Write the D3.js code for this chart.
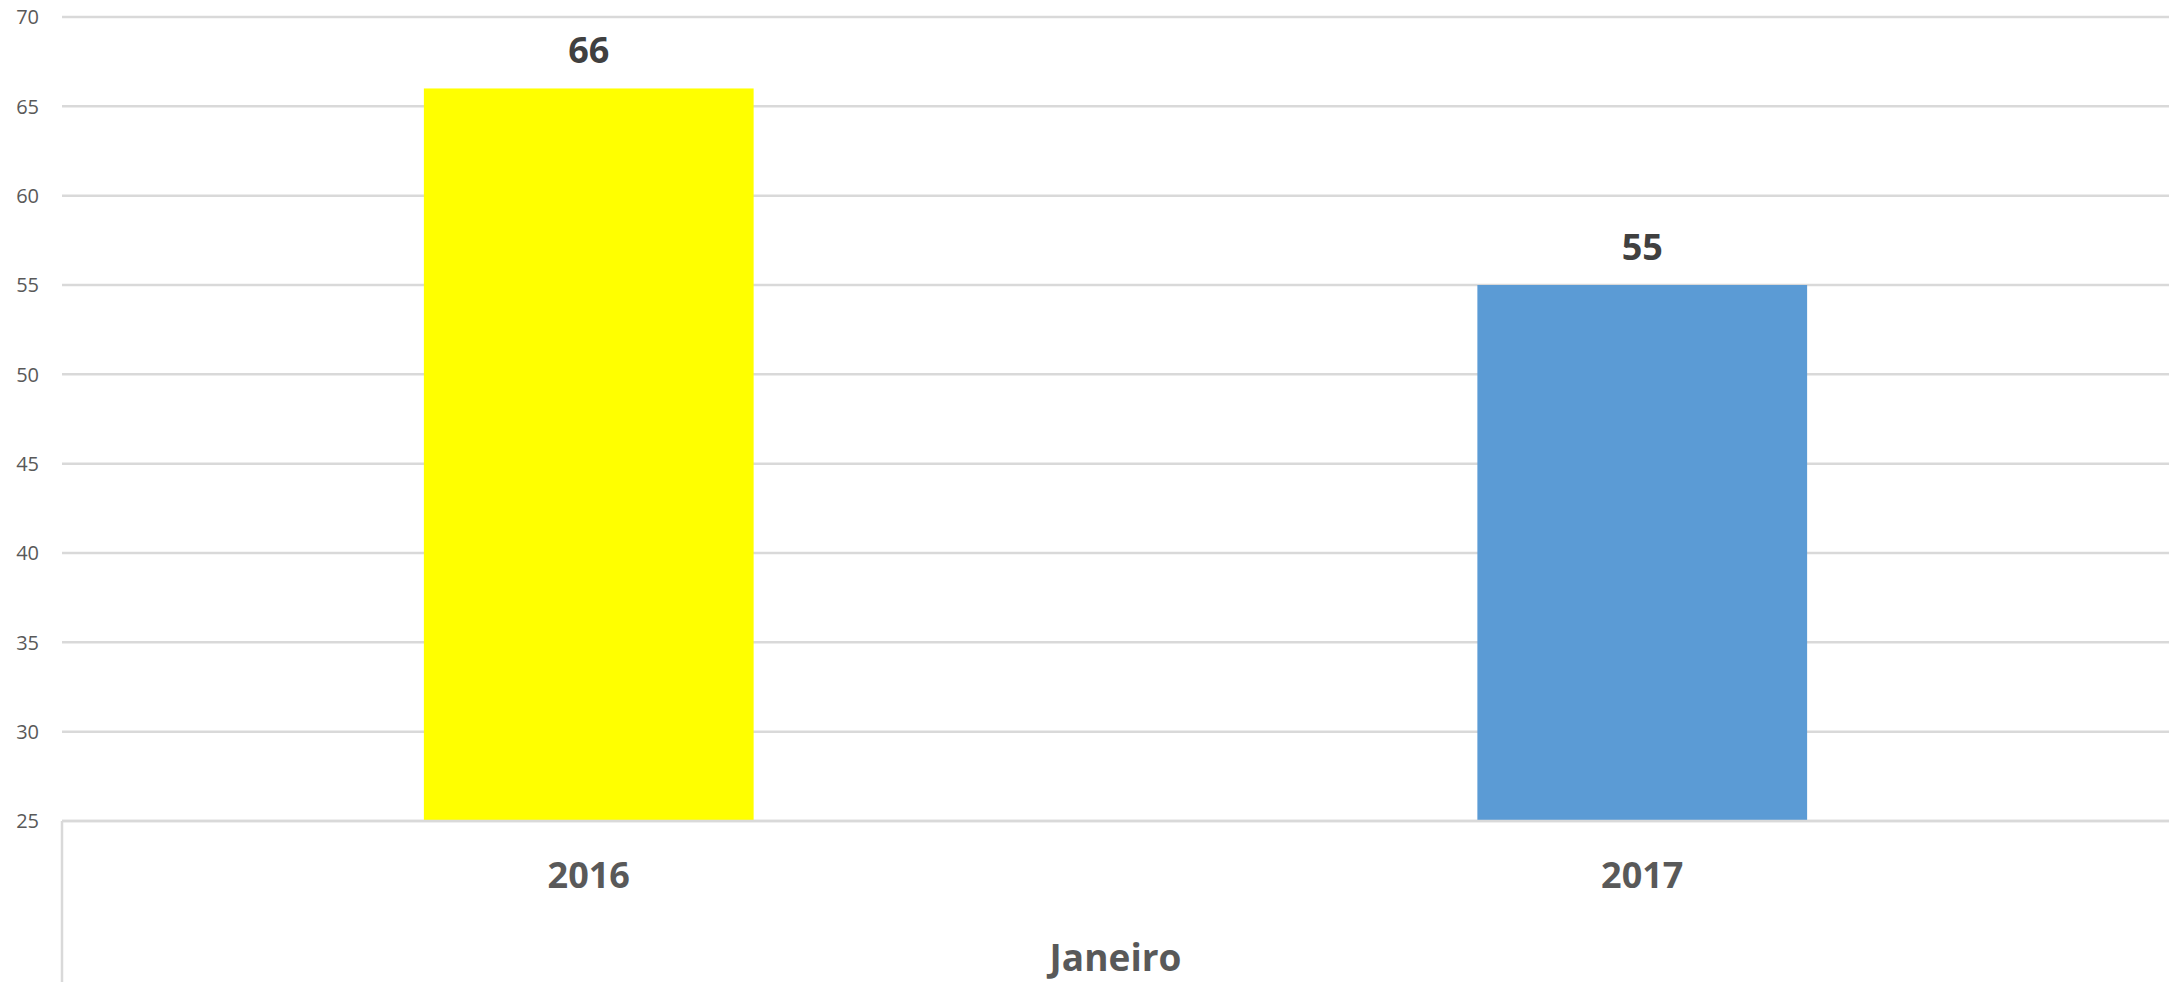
<!DOCTYPE html>
<html lang="pt">
<head>
<meta charset="UTF-8">
<title>Janeiro 2016 / 2017</title>
<script src="https://cdn.jsdelivr.net/npm/d3@7/dist/d3.min.js"></script>
<style>
  body { margin: 0; background: #fff; }
  text { font-family: "Open Sans", "Liberation Sans", sans-serif; }
</style>
</head>
<body>

<script type="text/javascript">
  // data
  var years = ["2016", "2017"];
  var values = [66, 55];
  var barColors = ["#FFFF00", "#5B9BD5"];
  var groupLabel = "Janeiro";
  var yTicks = [25, 30, 35, 40, 45, 50, 55, 60, 65, 70];

  var w = 2169;
  var h = 982;
  // plot area ("top" is reserved on window, so use other names)
  var plotLeft = 62, plotRight = 2169, plotTop = 17, plotBottom = 821;

  var svg = d3.select("body")
    .append("svg")
    .attr("width", w)
    .attr("height", h);

  var xScale = d3.scaleBand()
    .domain(years)
    .range([plotLeft, plotRight])
    .paddingInner(0.687)
    .paddingOuter(0.3435);

  var yScale = d3.scaleLinear()
    .domain([25, 70])
    .range([plotBottom, plotTop]);

  // gridlines
  svg.selectAll("line.grid")
    .data(yTicks)
    .enter()
    .append("line")
    .attr("class", "grid")
    .attr("x1", plotLeft)
    .attr("x2", plotRight)
    .attr("y1", function(d) { return yScale(d); })
    .attr("y2", function(d) { return yScale(d); })
    .attr("stroke", "#D9D9D9")
    .attr("stroke-width", 2.5);

  // y tick labels
  svg.selectAll("text.ytick")
    .data(yTicks)
    .enter()
    .append("text")
    .attr("class", "ytick")
    .attr("x", 39)
    .attr("y", function(d) { return yScale(d) + 2; })
    .attr("text-anchor", "end")
    .attr("dominant-baseline", "middle")
    .attr("font-size", 20)
    .attr("fill", "#595959")
    .text(function(d) { return d; });

  // group separator line below axis
  svg.append("line")
    .attr("x1", plotLeft)
    .attr("x2", plotLeft)
    .attr("y1", plotBottom)
    .attr("y2", h)
    .attr("stroke", "#D9D9D9")
    .attr("stroke-width", 2.5);

  // bars
  svg.selectAll("rect")
    .data(values)
    .enter()
    .append("rect")
    .attr("x", function(d, i) { return xScale(years[i]); })
    .attr("y", function(d) { return yScale(d); })
    .attr("width", xScale.bandwidth())
    .attr("height", function(d) { return plotBottom - yScale(d); })
    .attr("fill", function(d, i) { return barColors[i]; });

  // axis line over bar bottoms
  svg.append("line")
    .attr("x1", plotLeft)
    .attr("x2", plotRight)
    .attr("y1", plotBottom)
    .attr("y2", plotBottom)
    .attr("stroke", "#D9D9D9")
    .attr("stroke-width", 2.5);

  // value labels
  svg.selectAll("text.val")
    .data(values)
    .enter()
    .append("text")
    .attr("class", "val")
    .attr("x", function(d, i) { return xScale(years[i]) + xScale.bandwidth() / 2; })
    .attr("y", function(d) { return yScale(d) - 25; })
    .attr("text-anchor", "middle")
    .attr("font-size", 36)
    .attr("font-weight", "bold")
    .attr("fill", "#404040")
    .text(function(d) { return d; });

  // year labels
  svg.selectAll("text.year")
    .data(years)
    .enter()
    .append("text")
    .attr("class", "year")
    .attr("x", function(d) { return xScale(d) + xScale.bandwidth() / 2; })
    .attr("y", 888)
    .attr("text-anchor", "middle")
    .attr("font-size", 36)
    .attr("font-weight", "bold")
    .attr("fill", "#595959")
    .text(function(d) { return d; });

  // group label
  svg.append("text")
    .attr("x", (plotLeft + plotRight) / 2)
    .attr("y", 971)
    .attr("text-anchor", "middle")
    .attr("font-size", 37)
    .attr("font-weight", "bold")
    .attr("fill", "#595959")
    .text(groupLabel);
</script>

</body>
</html>
